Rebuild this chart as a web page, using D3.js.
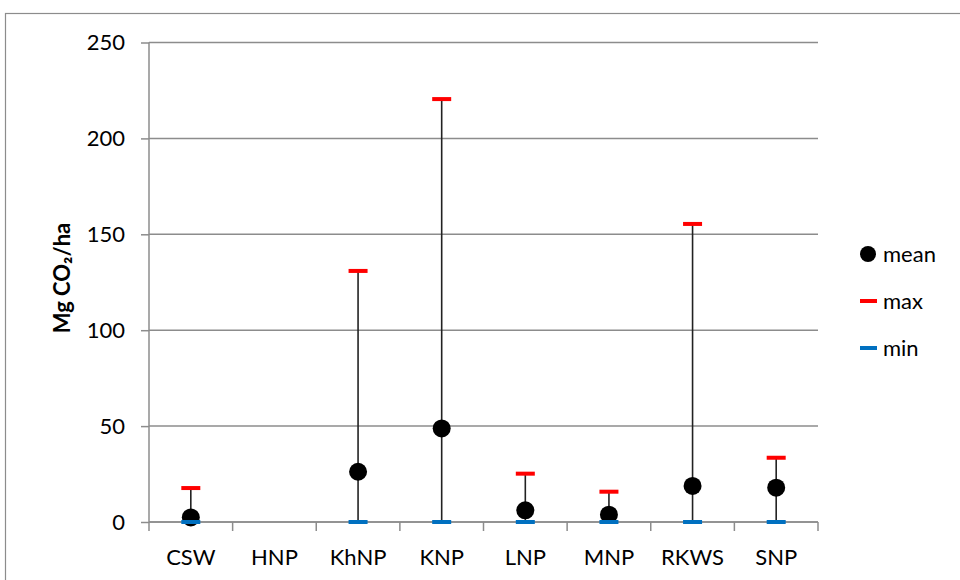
<!DOCTYPE html>
<html>
<head>
<meta charset="utf-8">
<script src="https://cdn.jsdelivr.net/npm/d3@7"></script>
<style>
  html, body { margin: 0; padding: 0; background: #fff; }
  svg { display: block; font-family: Lato, "Open Sans", sans-serif; }
</style>
</head>
<body>
<svg id="chart" width="960" height="580"></svg>
<script>
// Site names and carbon stock statistics (Mg CO2/ha)
const sites = ["CSW", "HNP", "KhNP", "KNP", "LNP", "MNP", "RKWS", "SNP"];
const meanValues = [2.4, null, 26.2, 48.8, 6.1, 3.8, 18.8, 17.9];
const maxValues  = [17.7, null, 130.9, 220.5, 25.2, 15.8, 155.4, 33.5];
const minValues  = [0, null, 0, 0, 0, 0, 0, 0];
const yTicks = [0, 50, 100, 150, 200, 250];
const legendItems = ["mean", "max", "min"];

const svg = d3.select("#chart");
const plotLeft = 149, plotRight = 818, plotTop = 42.5, plotBottom = 522;

// Outer chart frame
svg.append("rect")
  .attr("x", 5.5).attr("y", 13.5).attr("width", 1000).attr("height", 1000)
  .attr("fill", "none").attr("stroke", "#8c8c8c").attr("stroke-width", 1.2);

const x = d3.scaleBand().domain(sites).range([plotLeft, plotRight]);
const y = d3.scaleLinear().domain([0, 250]).range([plotBottom, plotTop]);

// Horizontal gridlines
svg.append("g").selectAll("line").data(yTicks).join("line")
  .attr("x1", plotLeft).attr("x2", plotRight)
  .attr("y1", d => y(d)).attr("y2", d => y(d))
  .attr("stroke", "#8c8c8c").attr("stroke-width", 1.5);

// Y axis
const yAxis = svg.append("g").attr("transform", `translate(${plotLeft},0)`)
  .call(d3.axisLeft(y).tickValues(yTicks).tickSize(8).tickPadding(16));
yAxis.select(".domain").attr("stroke", "#8c8c8c").attr("stroke-width", 1.5).attr("d", `M0,${y(250)}V${y(0)}`);
yAxis.selectAll(".tick line").attr("stroke", "#8c8c8c").attr("stroke-width", 1.5);
yAxis.selectAll(".tick text").attr("font-size", 22).attr("fill", "#000")
  .attr("font-family", "Lato, sans-serif");

// X axis: line, separator ticks at band edges, and labels
const xg = svg.append("g");
xg.append("line").attr("x1", plotLeft).attr("x2", plotRight).attr("y1", plotBottom).attr("y2", plotBottom)
  .attr("stroke", "#8c8c8c").attr("stroke-width", 1.5);
const edges = sites.map(s => x(s)).concat([plotRight]);
xg.selectAll("line.sep").data(edges).join("line").attr("class", "sep")
  .attr("x1", d => d).attr("x2", d => d).attr("y1", plotBottom).attr("y2", plotBottom + 9)
  .attr("stroke", "#8c8c8c").attr("stroke-width", 1.5);
xg.selectAll("text").data(sites).join("text")
  .attr("x", d => x(d) + x.bandwidth() / 2).attr("y", 565)
  .attr("text-anchor", "middle").attr("font-size", 22).text(d => d);

// Y axis title
svg.append("text")
  .attr("transform", `translate(70,278) rotate(-90)`)
  .attr("text-anchor", "middle").attr("font-size", 22).attr("font-weight", "bold")
  .text("Mg CO₂/ha");

// Range lines, caps and means
const rows = sites.map((s, i) => ({ s, mean: meanValues[i], max: maxValues[i], min: minValues[i] }))
  .filter(d => d.mean !== null);
const cx = d => x(d.s) + x.bandwidth() / 2;
const capW = 19;

svg.append("g").selectAll("line").data(rows).join("line")
  .attr("x1", cx).attr("x2", cx)
  .attr("y1", d => y(d.min)).attr("y2", d => y(d.max))
  .attr("stroke", "#222").attr("stroke-width", 1.6);

svg.append("g").selectAll("rect").data(rows).join("rect")
  .attr("x", d => cx(d) - capW / 2).attr("y", d => y(d.max) - 2)
  .attr("width", capW).attr("height", 4).attr("fill", "#ff0000");

svg.append("g").selectAll("circle").data(rows).join("circle")
  .attr("cx", cx).attr("cy", d => y(d.mean)).attr("r", 9).attr("fill", "#000");

svg.append("g").selectAll("rect").data(rows).join("rect")
  .attr("x", d => cx(d) - capW / 2).attr("y", d => y(d.min) - 2)
  .attr("width", capW).attr("height", 4).attr("fill", "#0070c0");

// Legend
const lg = svg.append("g");
const ly = [254, 301, 348];
lg.append("circle").attr("cx", 868).attr("cy", ly[0]).attr("r", 8).attr("fill", "#000");
lg.append("rect").attr("x", 860).attr("y", ly[1] - 2).attr("width", 17).attr("height", 4).attr("fill", "#ff0000");
lg.append("rect").attr("x", 860).attr("y", ly[2] - 2).attr("width", 17).attr("height", 4).attr("fill", "#0070c0");
lg.selectAll("text").data(legendItems).join("text")
  .attr("x", 883).attr("y", (d, i) => ly[i] + 8)
  .attr("font-size", 22).text(d => d);
</script>
</body>
</html>
